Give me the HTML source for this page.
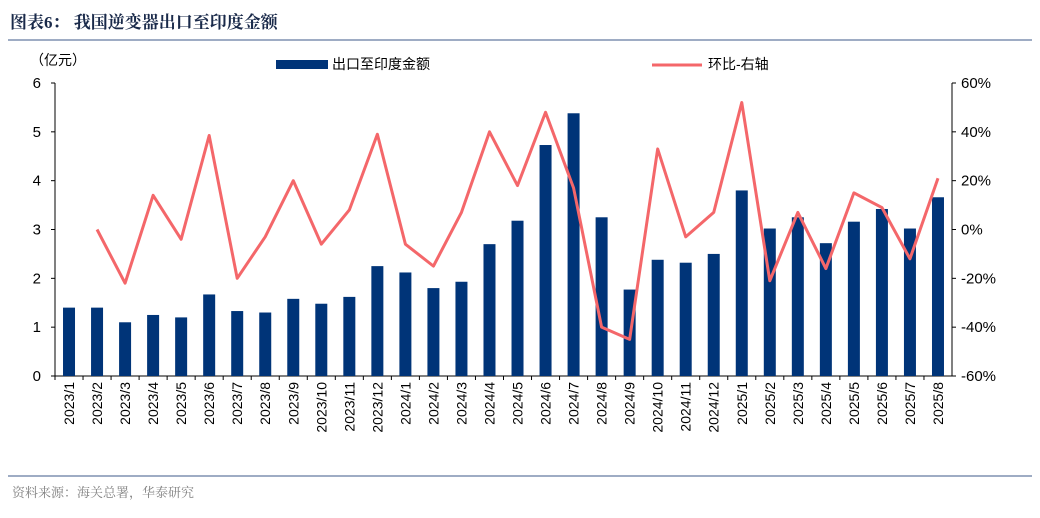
<!DOCTYPE html>
<html><head><meta charset="utf-8"><style>
body{margin:0;background:#fff;width:1040px;height:513px;overflow:hidden;font-family:"Liberation Sans","Noto Sans CJK SC",sans-serif}
</style></head><body>
<svg width="1040" height="513" xmlns="http://www.w3.org/2000/svg">
<text x="10" y="28" font-size="17" font-weight="bold" fill="#1a2a4a" font-family="Liberation Serif,Noto Serif CJK SC,serif">图表6：  我国逆变器出口至印度金额</text>
<line x1="8" y1="40" x2="1032" y2="40" stroke="#7f90b0" stroke-width="1.5"/>
<line x1="8" y1="476" x2="1032" y2="476" stroke="#7f90b0" stroke-width="1.5"/>
<text x="12" y="497" font-size="13" fill="#808080" font-family="Liberation Serif,Noto Serif CJK SC,serif">资料来源：海关总署，华泰研究</text>
<text x="30" y="65" font-size="14" fill="#000" font-family="Liberation Sans,Noto Sans CJK SC,sans-serif">（亿元）</text>
<rect x="276" y="60" width="52" height="9" fill="#003478"/>
<text x="332" y="69" font-size="14" font-family="Liberation Sans,Noto Sans CJK SC,sans-serif">出口至印度金额</text>
<line x1="652" y1="65" x2="702" y2="65" stroke="#f4676a" stroke-width="3"/>
<text x="708" y="69" font-size="14" font-family="Liberation Sans,Noto Sans CJK SC,sans-serif">环比-右轴</text>
<g id="g"></g>
</svg>
<script>
const categories=["2023/1","2023/2","2023/3","2023/4","2023/5","2023/6","2023/7","2023/8","2023/9","2023/10","2023/11","2023/12","2024/1","2024/2","2024/3","2024/4","2024/5","2024/6","2024/7","2024/8","2024/9","2024/10","2024/11","2024/12","2025/1","2025/2","2025/3","2025/4","2025/5","2025/6","2025/7","2025/8"];
const amounts=[1.4,1.4,1.1,1.25,1.2,1.67,1.33,1.3,1.58,1.48,1.62,2.25,2.12,1.8,1.93,2.7,3.18,4.73,5.38,3.25,1.77,2.38,2.32,2.5,3.8,3.02,3.25,2.72,3.16,3.42,3.02,3.66];
const mom=[null,0,-22,14,-4,38.5,-20,-3,20,-6,8,39,-6,-15,7,40,18,48,17,-40,-45,33,-3,7,52,-21,7,-16,15,9,-12,21];
const leftTicks=[0,1,2,3,4,5,6];
const rightTicks=[-60,-40,-20,0,20,40,60];
const NS="http://www.w3.org/2000/svg";
const g=document.getElementById('g');
const X0=55,X1=952,Y0=376,Y1=83;
const bw=(X1-X0)/categories.length;
const xc=i=>X0+bw*(i+0.5);
const yl=v=>Y0-(v/6)*(Y0-Y1);
const yr=v=>Y0-((v+60)/120)*(Y0-Y1);
function mk(t,a){const e=document.createElementNS(NS,t);for(const k in a)e.setAttribute(k,a[k]);g.appendChild(e);return e;}
let e=mk('line',{x1:X0,y1:Y1,x2:X0,y2:Y0,stroke:'#000'});


e=mk('line',{x1:X1,y1:Y1,x2:X1,y2:Y0,stroke:'#000'});


e=mk('line',{x1:X0,y1:Y0,x2:X1,y2:Y0,stroke:'#000'});


leftTicks.forEach(v=>{
 mk('line',{x1:X0-4,y1:yl(v),x2:X0,y2:yl(v),stroke:'#000'});
 const t=mk('text',{x:X0-14,y:yl(v)+5,'font-size':15,'text-anchor':'end'});t.textContent=v;
 
 
});
rightTicks.forEach(v=>{
 mk('line',{x1:X1,y1:yr(v),x2:X1+4,y2:yr(v),stroke:'#000'});
 const t=mk('text',{x:X1+9,y:yr(v)+5,'font-size':15});t.textContent=v+'%';
 
 
});
amounts.forEach((v,i)=>{
 const r=mk('rect',{x:xc(i)-6,y:yl(v),width:12,height:Y0-yl(v),fill:'#003478'});
 
 
 mk('line',{x1:X0+bw*i,y1:Y0,x2:X0+bw*i,y2:Y0+4,stroke:'#000'});
 const t=mk('text',{transform:`translate(${xc(i)+5},${Y0+6}) rotate(-90)`,'font-size':14,'text-anchor':'end'});
 t.textContent=categories[i];
 
 
});
let d='';mom.forEach((v,i)=>{if(v===null)return;d+=(d?'L':'M')+xc(i)+','+yr(v);});
const p=mk('path',{d:d,fill:'none',stroke:'#f4676a','stroke-width':3,'stroke-linejoin':'round'});


</script>
</body></html>
